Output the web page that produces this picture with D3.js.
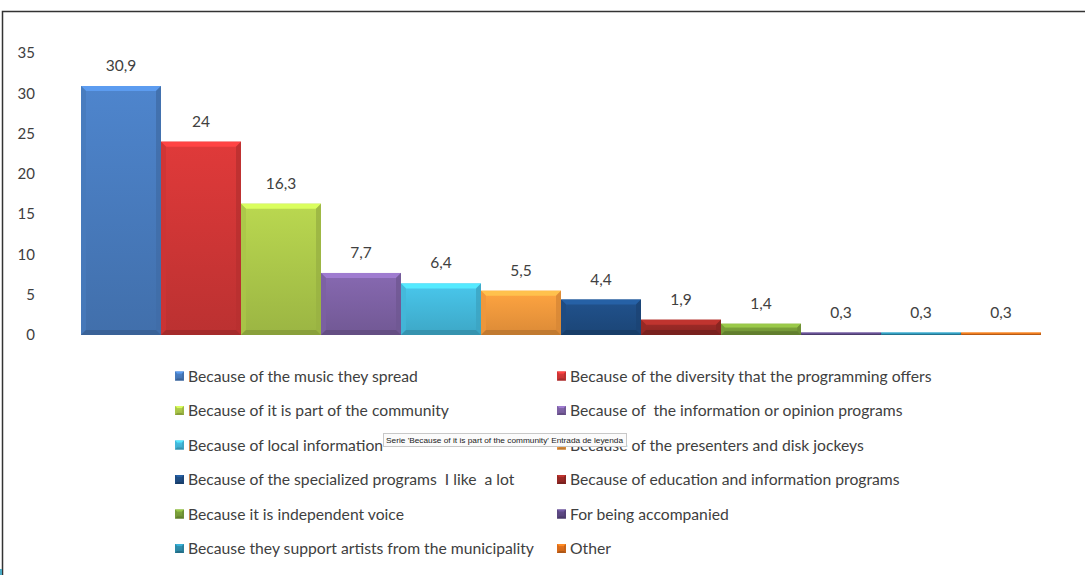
<!DOCTYPE html>
<html>
<head>
<meta charset="utf-8">
<script src="https://cdn.jsdelivr.net/npm/d3@7"></script>
<style>
    body { margin: 0; background: #fff; }
    svg { display: block; }
</style>
</head>
<body>
<div class="chart-reasons"></div>
<script>
// chart data
const categories = [
    'Because of the music they spread',
    'Because of the diversity that the programming offers',
    'Because of it is part of the community',
    'Because of  the information or opinion programs',
    'Because of local information',
    'Because of the presenters and disk jockeys',
    'Because of the specialized programs  I like  a lot',
    'Because of education and information programs',
    'Because it is independent voice',
    'For being accompanied',
    'Because they support artists from the municipality',
    'Other'
];
const values = [30.9, 24, 16.3, 7.7, 6.4, 5.5, 4.4, 1.9, 1.4, 0.3, 0.3, 0.3];
const valueLabels = ['30,9', '24', '16,3', '7,7', '6,4', '5,5', '4,4', '1,9', '1,4', '0,3', '0,3', '0,3'];
const yTicks = [0, 5, 10, 15, 20, 25, 30, 35];
const colors = ['#4a7ec2', '#d43737', '#b0cd4c', '#8064a8', '#45bde0', '#f89c3e',
                '#1f4e86', '#9b2a26', '#7ca23b', '#5e4a86', '#2e8fae', '#e0701c'];

const width = 1085, height = 575;
const textColor = '#404040';
const fontFamily = 'Lato, "Open Sans", sans-serif';

let svg = d3.select('.chart-reasons').append('svg')
    .attr('width', width)
    .attr('height', height);

// chart frame
svg.append('path')
    .attr('d', 'M2.5,575 L2.5,11.5 L1085,11.5')
    .attr('fill', 'none')
    .attr('stroke', '#333')
    .attr('stroke-width', 1.5);
svg.append('rect')
    .attr('x', 0).attr('y', 569).attr('width', 2).attr('height', 6)
    .attr('fill', '#4bacc6');

// gradients for the bevelled look
let defs = svg.append('defs');
colors.forEach(function(c, i) {
    let g = defs.append('linearGradient')
        .attr('id', 'grad' + i)
        .attr('x1', 0).attr('y1', 0).attr('x2', 0).attr('y2', 1);
    g.append('stop').attr('offset', '0%').attr('stop-color', d3.color(c).brighter(0.15));
    g.append('stop').attr('offset', '100%').attr('stop-color', d3.color(c).darker(0.35));
});

let x = d3.scaleBand().domain(categories).range([81, 1041]).padding(0),
    y = d3.scaleLinear().domain([0, 35]).range([335, 53]);

// y axis labels only
let yAxisGroup = svg.append('g')
    .attr('transform', 'translate(41,0)')
    .call(d3.axisLeft(y).tickValues(yTicks).tickSize(0).tickPadding(6));
yAxisGroup.select('.domain').remove();
yAxisGroup.selectAll('text')
    .attr('fill', textColor)
    .attr('font-family', fontFamily)
    .attr('font-size', 15);

let chartData = categories.map(function(c, i) {
    return {name: c, value: values[i], label: valueLabels[i], color: colors[i], idx: i};
});

function bevel(sel, x0, y0, w, h, color, maxB) {
    let b = Math.min(maxB, h / 3, w / 3);
    let x1 = x0 + w, y1 = y0 + h;
    sel.append('polygon') // top light edge
        .attr('points', [[x0, y0], [x1, y0], [x1 - b, y0 + b], [x0 + b, y0 + b]].join(' '))
        .attr('fill', d3.color(color).brighter(0.6));
    sel.append('polygon') // left edge
        .attr('points', [[x0, y0], [x0 + b, y0 + b], [x0 + b, y1 - b], [x0, y1]].join(' '))
        .attr('fill', d3.color(color).darker(0.1)).attr('opacity', 0.8);
    sel.append('polygon') // right edge
        .attr('points', [[x1, y0], [x1 - b, y0 + b], [x1 - b, y1 - b], [x1, y1]].join(' '))
        .attr('fill', d3.color(color).darker(0.4)).attr('opacity', 0.8);
    sel.append('polygon') // bottom edge
        .attr('points', [[x0, y1], [x0 + b, y1 - b], [x1 - b, y1 - b], [x1, y1]].join(' '))
        .attr('fill', d3.color(color).darker(0.7));
}

let bars = svg.selectAll('.bar')
    .data(chartData)
    .enter().append('g')
    .attr('class', 'bar');
bars.each(function(d) {
    let g = d3.select(this);
    let bx = x(d.name), by = y(d.value), bw = x.bandwidth(), bh = y(0) - y(d.value);
    g.append('rect')
        .attr('x', bx).attr('y', by)
        .attr('width', bw).attr('height', bh)
        .attr('fill', 'url(#grad' + d.idx + ')');
    bevel(g, bx, by, bw, bh, d.color, 5);
});

// value labels
svg.selectAll('.value-label')
    .data(chartData)
    .enter().append('text')
    .attr('class', 'value-label')
    .attr('x', function(d) { return x(d.name) + x.bandwidth() / 2; })
    .attr('y', function(d) { return y(d.value) - 15; })
    .attr('text-anchor', 'middle')
    .attr('fill', textColor)
    .attr('font-family', fontFamily)
    .attr('font-size', 15.5)
    .text(function(d) { return d.label; });

// legend, two columns
let legendCols = [175, 557], legendTop = 376, legendStep = 34.5;
let legend = svg.selectAll('.legend-item')
    .data(chartData)
    .enter().append('g')
    .attr('class', 'legend-item')
    .attr('transform', function(d) {
        return 'translate(' + legendCols[d.idx % 2] + ',' + (legendTop + Math.floor(d.idx / 2) * legendStep) + ')';
    });
legend.each(function(d) {
    let g = d3.select(this);
    g.append('rect')
        .attr('x', 0).attr('y', -4.5).attr('width', 9).attr('height', 9)
        .attr('fill', 'url(#grad' + d.idx + ')');
    bevel(g, 0, -4.5, 9, 9, d.color, 2);
});
legend.append('text')
    .attr('x', 13)
    .attr('y', 5.5)
    .attr('fill', textColor)
    .attr('font-family', fontFamily)
    .attr('font-size', 15.7)
    .attr('xml:space', 'preserve')
    .style('white-space', 'pre')
    .text(function(d) { return d.name; });

// hover tooltip captured in the picture
let tip = svg.append('g').attr('transform', 'translate(383,433)');
tip.append('rect')
    .attr('x', 0.5).attr('y', 0.5).attr('width', 243).attr('height', 13)
    .attr('fill', '#fbfbfb')
    .attr('stroke', '#c8c8c8');
tip.append('text')
    .attr('x', 3).attr('y', 9.5)
    .attr('fill', '#222')
    .attr('font-family', '"Liberation Sans", Arial, sans-serif')
    .attr('font-size', 7.5)
    .attr('textLength', 237)
    .attr('lengthAdjust', 'spacingAndGlyphs')
    .text("Serie 'Because of it is part of the community' Entrada de leyenda");
</script>
</body>
</html>
